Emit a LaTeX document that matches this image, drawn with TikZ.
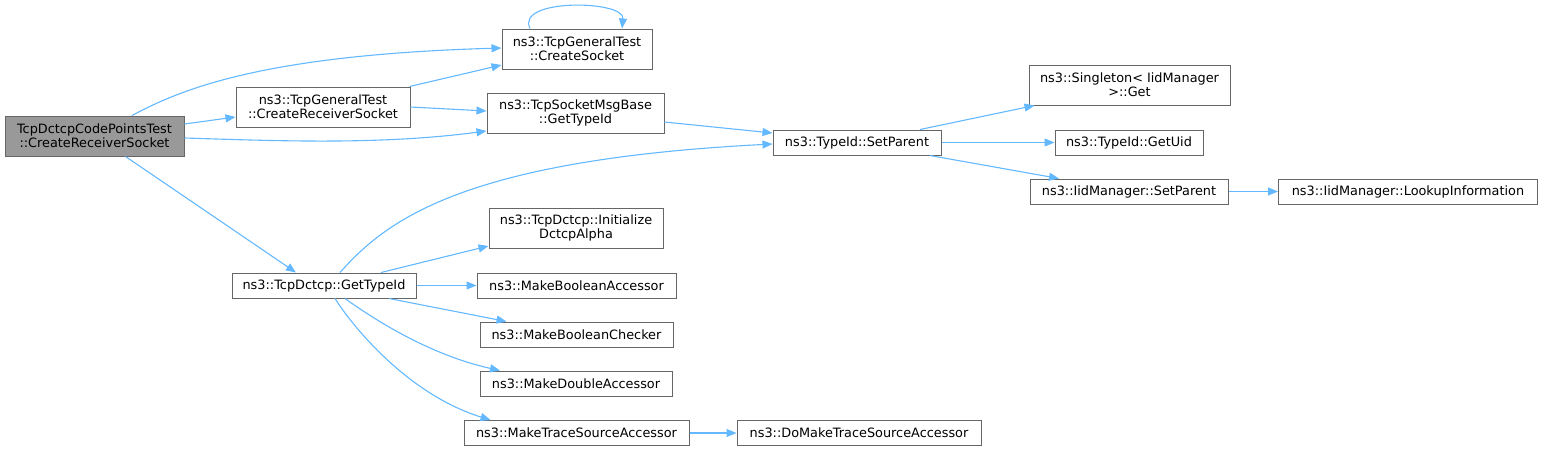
\documentclass[tikz,border=0pt]{standalone}
\usepackage{fontspec}
\setmainfont{DejaVu Sans}
\usetikzlibrary{arrows.meta}
\definecolor{edgec}{RGB}{99,184,255}
\definecolor{boxb}{RGB}{102,102,102}
\definecolor{mainfill}{RGB}{153,153,153}
\begin{document}
\begin{tikzpicture}[x=1pt,y=-1pt,
 box/.style={draw=boxb,fill=white,line width=1pt,inner sep=0pt,align=center,font=\fontsize{12.85}{14.3}\selectfont},
 one/.style={minimum height=25pt},
 two/.style={minimum height=40pt},
 edge/.style={draw=edgec,line width=1.1pt,-{Triangle[length=10pt,width=8pt]}}]
\useasboundingbox (0,0) rectangle (1541,451);
\node[box,two,fill=mainfill,minimum width=179pt] (main) at (94.5,136) {TcpDctcpCodePointsTest\\::CreateReceiverSocket};
\node[box,two,minimum width=174pt] (crs) at (323,107) {ns3::TcpGeneralTest\\::CreateReceiverSocket};
\node[box,two,minimum width=150pt] (cs) at (577,49) {ns3::TcpGeneralTest\\::CreateSocket};
\node[box,two,minimum width=177pt] (tsmb) at (575.5,113) {ns3::TcpSocketMsgBase\\::GetTypeId};
\node[box,one,minimum width=168pt] (sp) at (857,142.5) {ns3::TypeId::SetParent};
\node[box,two,minimum width=201pt] (sing) at (1129.5,85) {ns3::Singleton< IidManager\\>::Get};
\node[box,one,minimum width=148pt] (uid) at (1129,142.5) {ns3::TypeId::GetUid};
\node[box,one,minimum width=198pt] (isp) at (1129,191.5) {ns3::IidManager::SetParent};
\node[box,one,minimum width=259pt] (look) at (1408,191.5) {ns3::IidManager::LookupInformation};
\node[box,one,minimum width=184pt] (dg) at (324,285.5) {ns3::TcpDctcp::GetTypeId};
\node[box,two,minimum width=174pt] (init) at (576,228) {ns3::TcpDctcp::Initialize\\DctcpAlpha};
\node[box,one,minimum width=199pt] (mba) at (576.5,285.5) {ns3::MakeBooleanAccessor};
\node[box,one,minimum width=193pt] (mbc) at (576.5,334.5) {ns3::MakeBooleanChecker};
\node[box,one,minimum width=192pt] (mda) at (576,383.5) {ns3::MakeDoubleAccessor};
\node[box,one,minimum width=225pt] (mtsa) at (576.5,433) {ns3::MakeTraceSourceAccessor};
\node[box,one,minimum width=244pt] (dmtsa) at (859,433) {ns3::DoMakeTraceSourceAccessor};
% edges
\draw[edge] ([yshift=12pt]main.east) -- ([yshift=-10pt]crs.west);
\draw[edge] ([xshift=37.5pt]main.north) .. controls (180,90) and (260,55) .. ([yshift=1pt]cs.west);
\draw[edge] ([yshift=-2pt]main.east) .. controls (280,141) and (380,145) .. ([yshift=-18pt]tsmb.west);
\draw[edge] ([xshift=31pt]main.south) -- ([xshift=-28pt]dg.north);
\draw[edge] ([xshift=-1pt]crs.north east) -- ([yshift=-16pt]cs.west);
\draw[edge] (crs.east) -- ([yshift=2pt]tsmb.west);
\draw[edge] ([xshift=-47pt]cs.north) .. controls (515,-2) and (625,0) .. ([xshift=45pt]cs.north);
\draw[edge] ([yshift=-9pt]tsmb.east) -- ([yshift=9.5pt]sp.west);
\draw[edge] ([xshift=16pt]dg.north) .. controls (385,222) and (460,160) .. ([yshift=-1.5pt]sp.west);
\draw[edge] ([xshift=57pt]dg.north) -- ([yshift=-18pt]init.west);
\draw[edge] (dg.east) -- (mba.west);
\draw[edge] ([xshift=65pt]dg.south) -- ([xshift=-70pt]mbc.north);
\draw[edge] ([xshift=21pt]dg.south) .. controls (375,320) and (430,355) .. ([xshift=-76pt]mda.north);
\draw[edge] ([xshift=11pt]dg.south) .. controls (355,330) and (410,395) .. ([xshift=-86pt]mtsa.north);
\draw[edge] ([xshift=63pt]sp.north) -- ([xshift=-95pt]sing.south);
\draw[edge] (sp.east) -- (uid.west);
\draw[edge] ([xshift=73pt]sp.south) -- ([xshift=-70pt]isp.north);
\draw[edge] (isp.east) -- (look.west);
\draw[edge] (mtsa.east) -- (dmtsa.west);
\end{tikzpicture}
\end{document}
